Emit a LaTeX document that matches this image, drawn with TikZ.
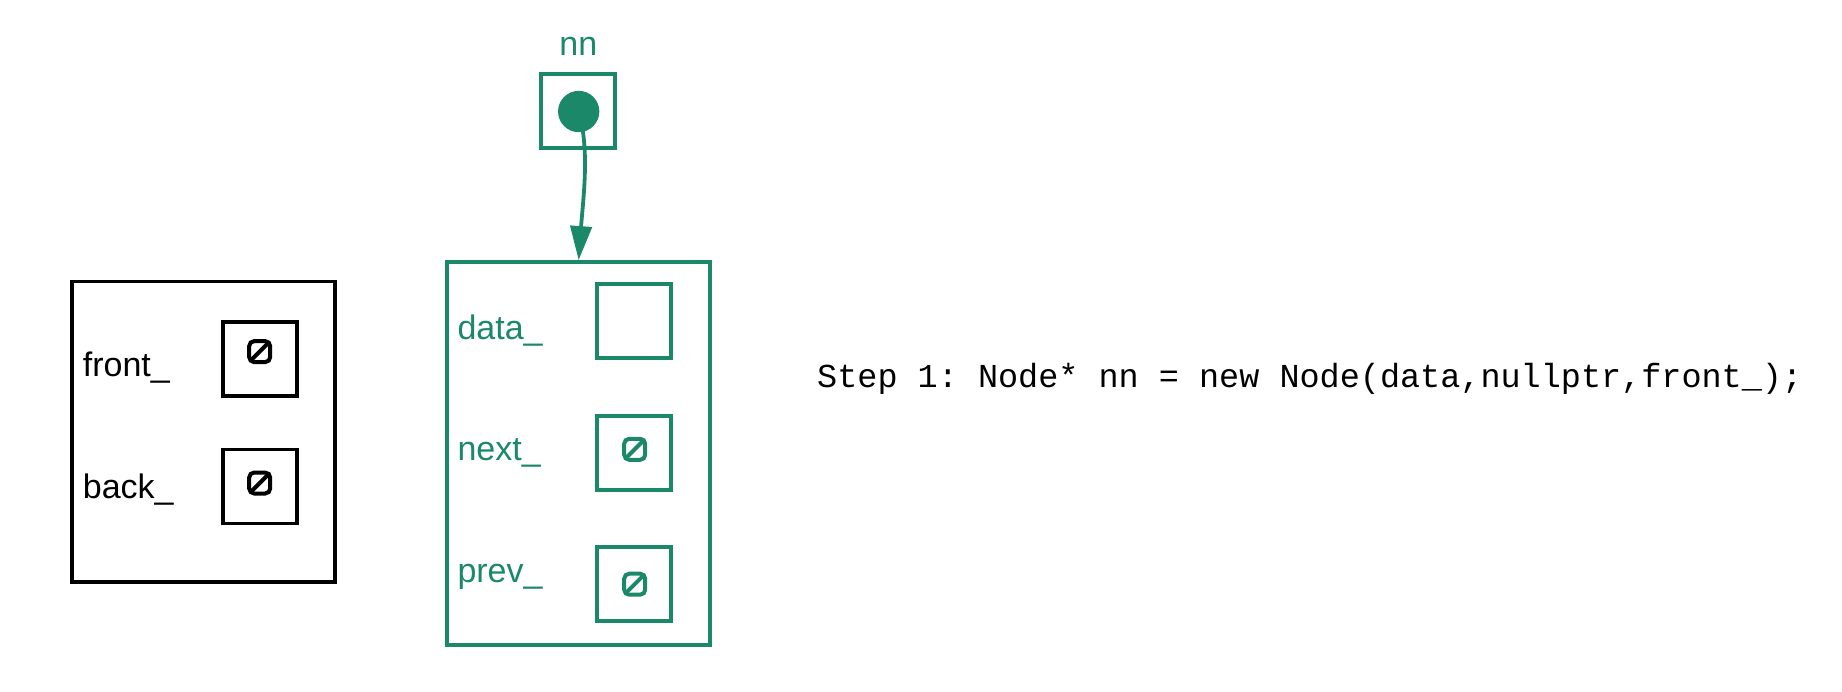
\documentclass[tikz,border=0pt]{standalone}
\usepackage{fontspec}
\setmainfont{Liberation Sans}
\newfontfamily\codefont{Liberation Mono}
\usetikzlibrary{arrows.meta}
\definecolor{grn}{RGB}{28,136,106}
\frenchspacing
\begin{document}
\begin{tikzpicture}[x=1pt,y=-1pt,
  container/.style={draw, line width=3.8pt, inner sep=0pt},
  field/.style={draw, line width=3.8pt, minimum width=74pt, minimum height=74pt, inner sep=0pt},
  lbl/.style={anchor=base west, inner sep=0pt, font=\fontsize{34}{40}\selectfont},
  nullsym/.style={draw, rounded corners=5pt, line width=4pt, minimum size=21pt, inner sep=0pt,
    path picture={\draw[line width=4pt] (path picture bounding box.south west) -- (path picture bounding box.north east);}},
  ptr/.style={line width=3.8pt, -{Triangle[length=34pt,width=21.3pt]}}
]
\useasboundingbox (0,0) rectangle (1842,691);

% list object (black)
\node[container, minimum width=263pt, minimum height=300.5pt] (list) at (203.5,431.75) {};
\node[lbl] (frontlbl) at (82.7,376.7) {front\_};
\node[lbl] (backlbl) at (82.7,498.3) {back\_};
\node[field] (front) at (259.7,359.2) {};
\node[field] (back) at (259.7,486.5) {};
\node[nullsym] (frontnull) at (259.7,351.6) {};
\node[nullsym] (backnull) at (259.7,483) {};

% new node (green)
\begin{scope}[grn]
\node[lbl, anchor=base] (nnlbl) at (578.3,55) {nn};
\node[field] (nnbox) at (578.3,111.3) {};
\node[circle, fill=grn, minimum size=41.3pt, inner sep=0pt] (dot) at (578.7,111.5) {};
\node[container, draw=grn, minimum width=262.7pt, minimum height=383.3pt] (newnode) at (578.65,453.65) {};
\node[lbl] (datalbl) at (457.3,339.3) {data\_};
\node[lbl] (nextlbl) at (457.3,460.7) {next\_};
\node[lbl] (prevlbl) at (457.3,582.7) {prev\_};
\node[field] (data) at (634.3,321.3) {};
\node[field] (next) at (634.3,452.7) {};
\node[field] (prev) at (634.3,584.2) {};
\node[nullsym] (nextnull) at (634.7,449.3) {};
\node[nullsym] (prevnull) at (634.7,584.2) {};
\draw[ptr] (dot.center) .. controls (590,150) and (583,200) .. (newnode.north);
\end{scope}

\node[anchor=base west, inner sep=0pt, font=\codefont\fontsize{33.5}{40}\selectfont] (step) at (817,387.7) {Step 1: Node* nn = new Node(data,nullptr,front\_);};
\end{tikzpicture}
\end{document}
